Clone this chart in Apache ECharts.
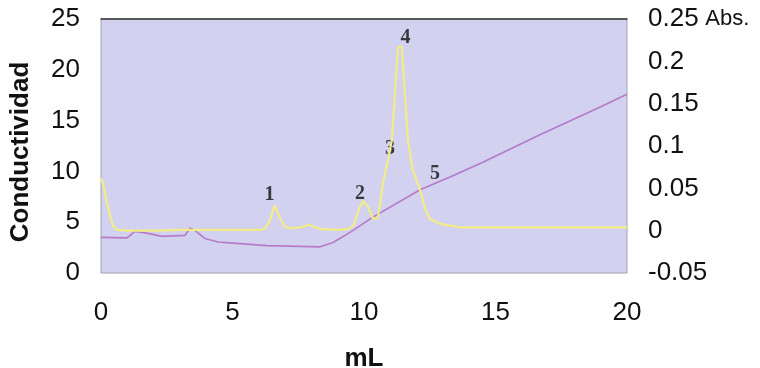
<!DOCTYPE html>
<html>
<head>
<meta charset="utf-8">
<script src="https://cdn.jsdelivr.net/npm/echarts@6/dist/echarts.min.js"></script>
<style>html,body{margin:0;padding:0;background:#fff}#c{width:760px;height:368px}</style>
</head>
<body>
<div id="c"></div>
<script>
// Absorbance trace (yellow, right axis): mL and Abs
var absX = [0, 0.08, 0.23, 0.45, 0.6, 1, 2, 3, 4, 5, 6, 6.2, 6.4, 6.6, 6.8, 7.0, 7.3, 7.6, 7.9, 8.3, 9.0, 9.4, 9.6, 9.8, 9.96, 10.15, 10.35, 10.53, 10.72, 10.91, 11.06, 11.29, 11.44, 11.67, 11.85, 12.13, 12.32, 12.5, 12.9, 13.65, 15, 17, 20];
var absY = [0.062, 0.055, 0.032, 0.006, 0.001, 0.0, 0.0, 0.001, 0.001, 0.001, 0.001, 0.002, 0.01, 0.030, 0.015, 0.004, 0.003, 0.004, 0.007, 0.002, 0.001, 0.002, 0.006, 0.025, 0.035, 0.028, 0.014, 0.015, 0.056, 0.083, 0.107, 0.217, 0.217, 0.107, 0.072, 0.048, 0.026, 0.014, 0.008, 0.004, 0.004, 0.004, 0.004];
// Conductivity trace (purple, left axis)
var condX = [0, 0.99, 1.29, 1.79, 2.32, 3.19, 3.38, 3.57, 3.95, 4.45, 5.02, 6.31, 8.33, 8.82, 9.47, 10.34, 12.13, 13.27, 14.52, 16.69, 18.86, 20];
var condY = [3.5, 3.45, 4.1, 3.9, 3.6, 3.7, 4.4, 4.2, 3.4, 3.05, 2.95, 2.7, 2.58, 3.0, 4.0, 5.5, 8.2, 9.45, 10.9, 13.6, 16.2, 17.6];
// Peak annotations (on the absorbance trace)
var peakNames = ['1', '2', '3', '4', '5'];
var peakX = [6.6, 9.96, 10.91, 11.35, 12.13];
var peakAbs = [0.030, 0.035, 0.083, 0.217, 0.048];
var leftTicks = [0, 5, 10, 15, 20, 25];
var rightTicks = ['-0.05', '0', '0.05', '0.1', '0.15', '0.2', '0.25'];
var xTicks = [0, 5, 10, 15, 20];

var labelOffsets = [[-5, -10], [-3, -7], [2, -12], [6, -9], [15, -16]];

var absData = absX.map(function (x, i) { return [x, absY[i]]; });
var condData = condX.map(function (x, i) { return [x, condY[i]]; });
var peakData = peakNames.map(function (n, i) {
  return {
    name: n, value: [peakX[i], peakAbs[i]],
    label: { offset: labelOffsets[i] }
  };
});

var chart = echarts.init(document.getElementById('c'), null, { renderer: 'canvas' });
var FONT = 'Liberation Sans, Arial, sans-serif';
var tickFont = { fontFamily: FONT, fontSize: 26, color: '#111' };
chart.setOption({
  animation: false,
  backgroundColor: '#ffffff',
  grid: {
    left: 101, right: 133, top: 19, bottom: 95,
    containLabel: false, outerBoundsMode: 'none',
    show: true, backgroundColor: '#d2d2f0', borderColor: '#a0a0ae', borderWidth: 1
  },
  xAxis: [{
    type: 'value', min: 0, max: 20, interval: 5,
    name: 'mL', nameLocation: 'middle', nameGap: 73,
    nameTextStyle: { fontFamily: FONT, fontSize: 26, fontWeight: 'bold', color: '#111' },
    axisLine: { show: false }, axisTick: { show: false }, splitLine: { show: false },
    axisLabel: Object.assign({ margin: 27, formatter: function (v) { return xTicks.indexOf(v) >= 0 ? String(v) : ''; } }, tickFont)
  }, {
    type: 'value', min: 0, max: 20, position: 'top',
    axisLine: { show: true, onZero: false, lineStyle: { color: '#333', width: 1.5 } },
    axisTick: { show: false }, axisLabel: { show: false }, splitLine: { show: false }
  }],
  yAxis: [{
    type: 'value', min: 0, max: 25, interval: 5,
    name: 'Conductividad', nameLocation: 'middle', nameGap: 67, nameRotate: 90,
    nameTextStyle: { fontFamily: FONT, fontSize: 26, fontWeight: 'bold', color: '#111', padding: [0, 12, 0, 0] },
    axisLine: { show: false }, axisTick: { show: false }, splitLine: { show: false },
    axisLabel: Object.assign({ margin: 21, formatter: function (v) { return leftTicks.indexOf(v) >= 0 ? String(v) : ''; } }, tickFont)
  }, {
    type: 'value', min: -0.05, max: 0.25, interval: 0.05, position: 'right',
    axisLine: { show: false }, axisTick: { show: false }, splitLine: { show: false },
    axisLabel: {
      margin: 21, align: 'left',
      formatter: function (v) {
        var s = String(parseFloat(v.toFixed(2)));
        if (rightTicks.indexOf(s) < 0) return '';
        return s === '0.25' ? '{v|' + s + '}  {a|Abs.}' : '{v|' + s + '}';
      },
      rich: {
        v: { fontFamily: FONT, fontSize: 26, color: '#111' },
        a: { fontFamily: FONT, fontSize: 22, color: '#111' }
      }
    }
  }],
  series: [{
    type: 'line', name: 'Conductividad', xAxisIndex: 0, yAxisIndex: 0,
    data: condData, showSymbol: false, symbol: 'none',
    lineStyle: { color: '#b67ac8', width: 1.7 }
  }, {
    type: 'line', name: 'Abs', xAxisIndex: 0, yAxisIndex: 1,
    data: absData, showSymbol: false, symbol: 'none',
    lineStyle: { color: '#f3ec86', width: 2.2 }
  }, {
    type: 'scatter', xAxisIndex: 0, yAxisIndex: 1,
    data: peakData, symbolSize: 0, silent: true,
    label: {
      show: true, position: 'inside', formatter: '{b}',
      fontFamily: 'Liberation Serif, Times New Roman, serif', fontWeight: 'bold', fontSize: 20, color: '#111'
    }
  }]
});
</script>
</body>
</html>
